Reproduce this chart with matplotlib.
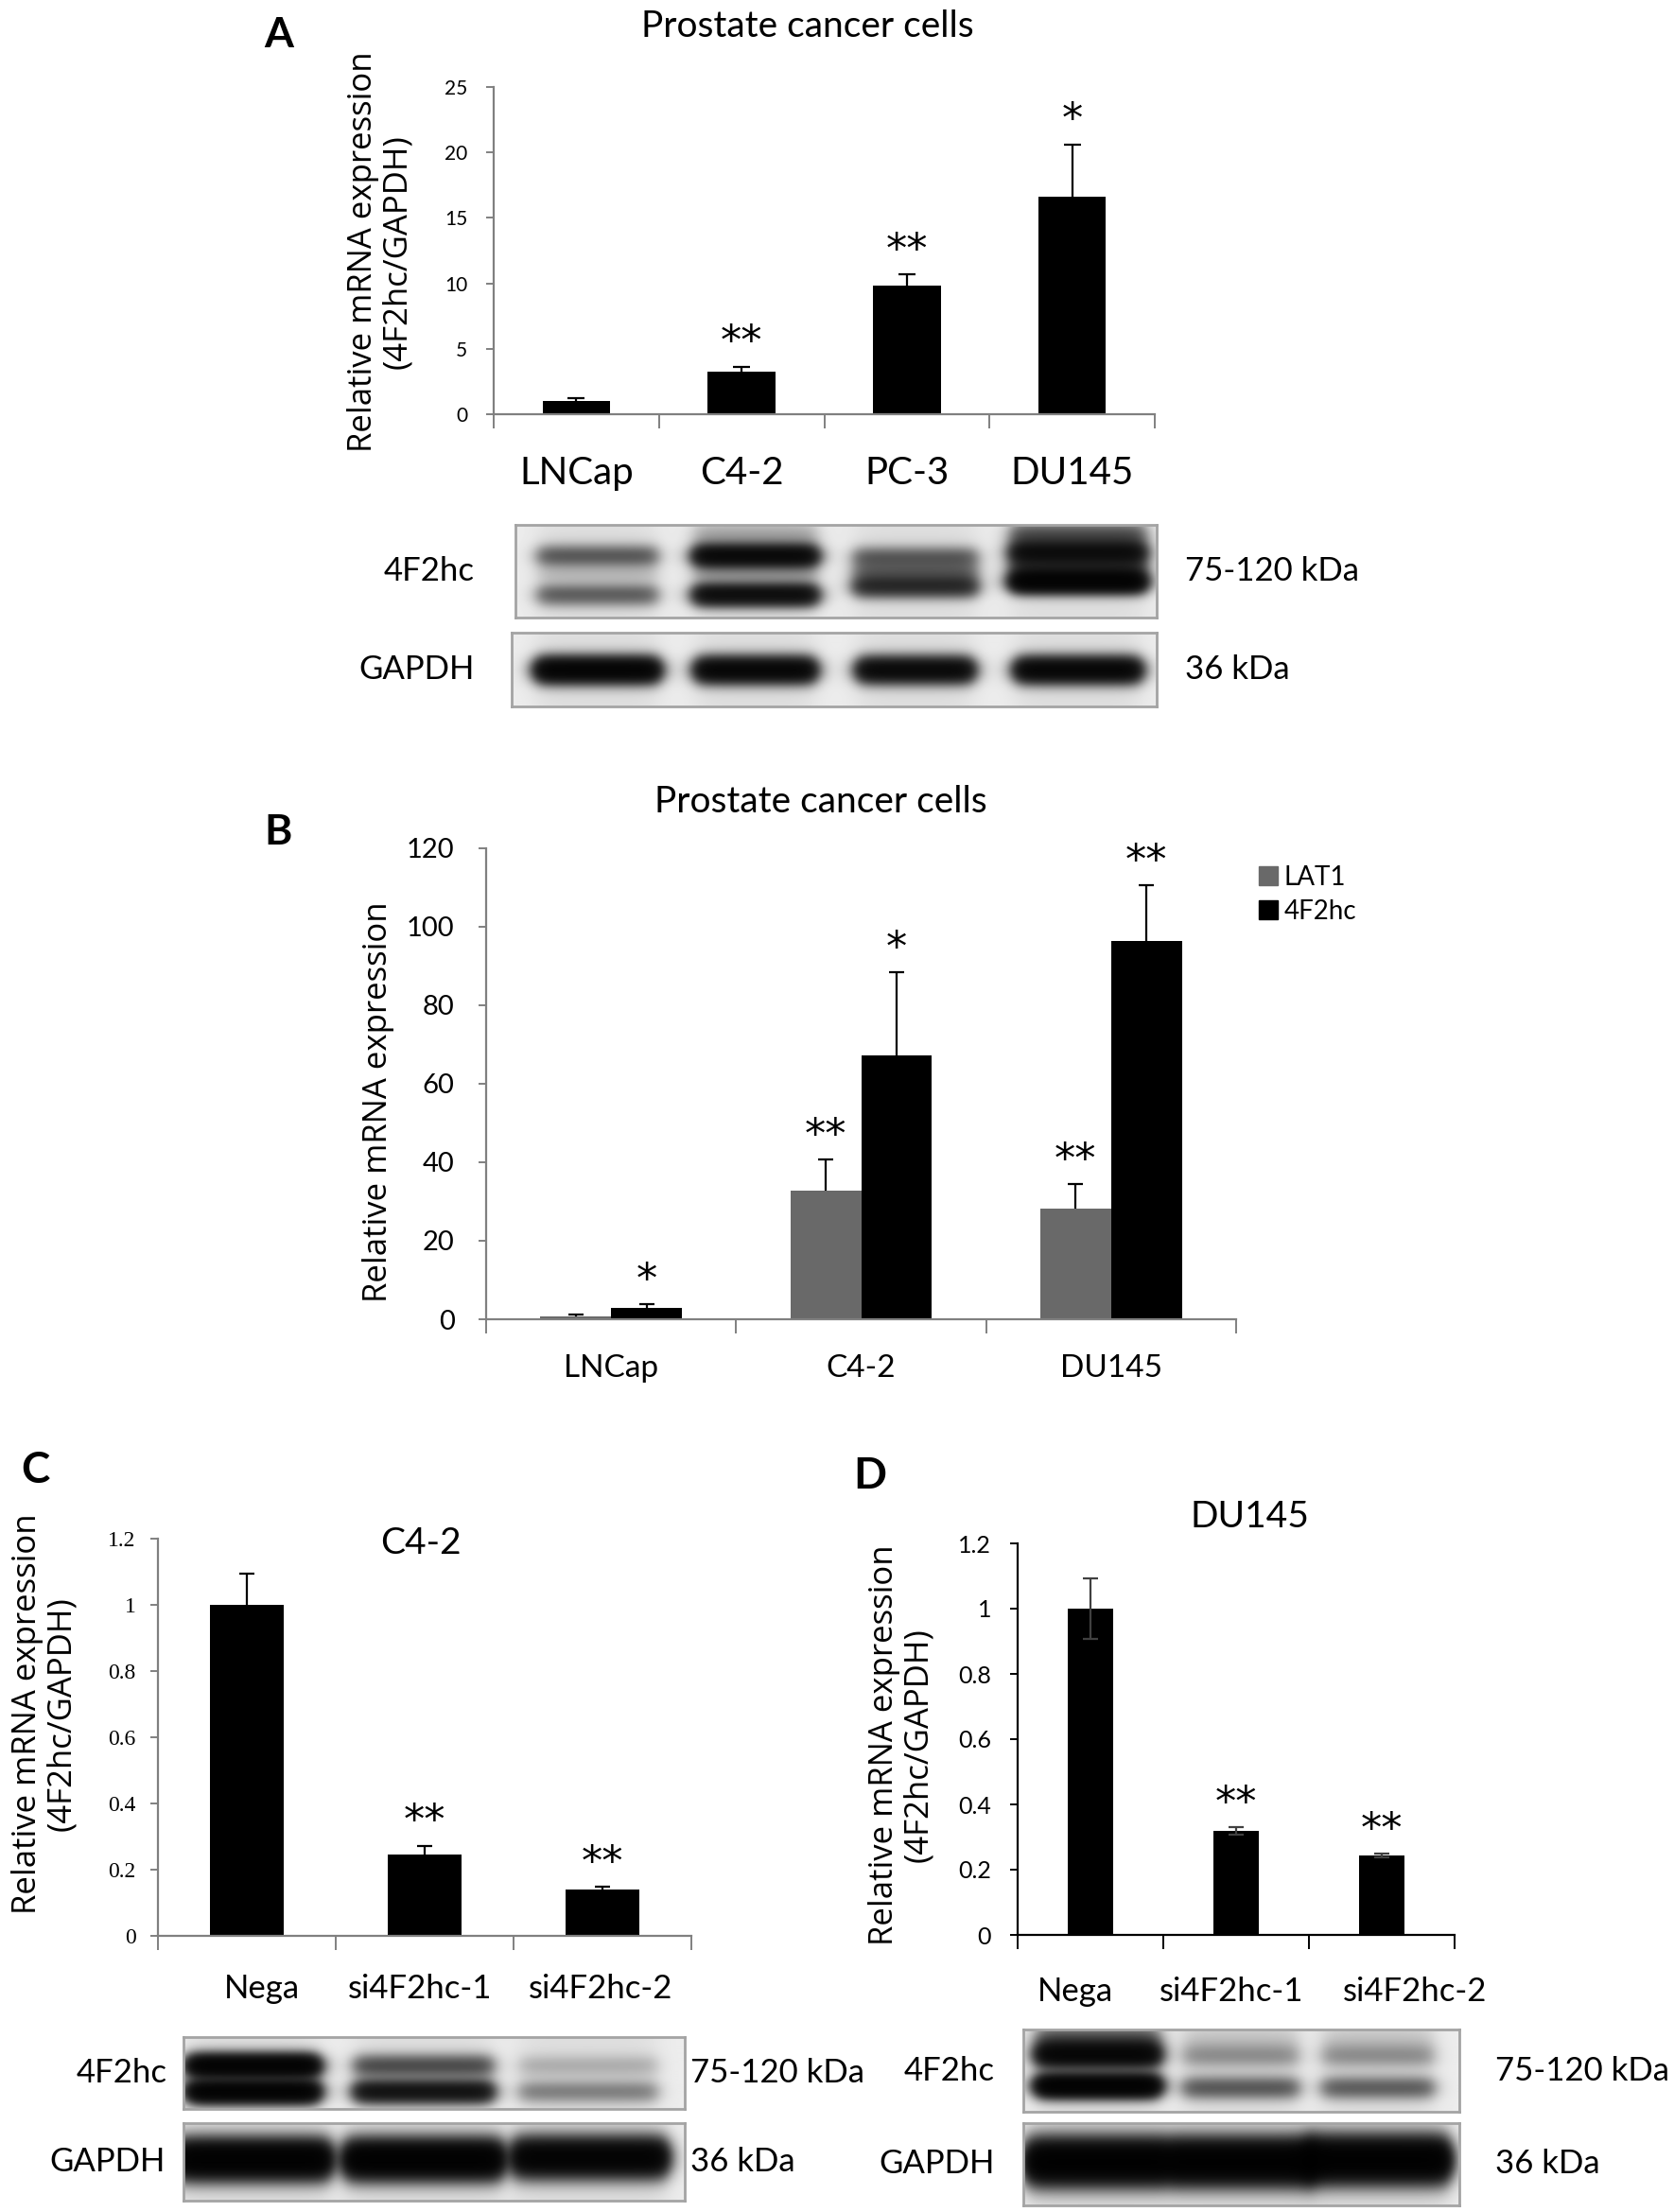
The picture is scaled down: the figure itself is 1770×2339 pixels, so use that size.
import numpy as np
import matplotlib
matplotlib.use("Agg")
import matplotlib.pyplot as plt
from matplotlib.patches import Patch

plt.rcParams['font.family'] = ['Lato', 'DejaVu Sans']

# ---- data ----
a_labels = ['LNCap', 'C4-2', 'PC-3', 'DU145']
a_mean = [1.03, 3.28, 9.82, 16.62]
a_err = [0.17, 0.34, 0.86, 3.98]
a_stars = ['', '**', '**', '*']
a_yticks = [0, 5, 10, 15, 20, 25]

b_labels = ['LNCap', 'C4-2', 'DU145']
b_lat1 = [0.8, 32.7, 28.1]
b_lat1_err = [0.5, 8.0, 6.3]
b_4f2hc = [2.9, 67.2, 96.3]
b_4f2hc_err = [0.9, 21.2, 14.3]
b_lat1_stars = ['', '**', '**']
b_4f2hc_stars = ['*', '*', '**']
b_yticks = [0, 20, 40, 60, 80, 100, 120]

si_labels = ['Nega', 'si4F2hc-1', 'si4F2hc-2']
c_mean = [1.0, 0.246, 0.14]
c_err = [0.093, 0.026, 0.008]
c_stars = ['', '**', '**']
d_mean = [1.0, 0.318, 0.244]
d_err = [0.093, 0.011, 0.005]
d_stars = ['', '**', '**']
cd_yticks = [0, 0.2, 0.4, 0.6, 0.8, 1.0, 1.2]

# western blot band strengths (relative darkness per lane)
a_blot_top = [0.0, 0.1, 0.0, 0.35]
a_blot_upper = [0.30, 1.0, 0.30, 0.85]
a_blot_mid = [0.05, 0.10, 0.20, 0.35]
a_blot_lower = [0.28, 0.90, 0.55, 1.30]
a_gapdh = [1.2, 1.1, 1.0, 1.1]
c_blot_upper = [1.3, 0.35, 0.08]
c_blot_lower = [1.3, 0.80, 0.18]
c_gapdh = [1.5, 1.5, 1.3]
d_blot_top = [0.50, 0.06, 0.06]
d_blot_upper = [0.70, 0.10, 0.10]
d_blot_lower = [1.40, 0.30, 0.28]
d_gapdh = [1.6, 1.6, 1.6]

W, H = 1770, 2339
fig = plt.figure(figsize=(W / 100, H / 100), dpi=100)
GRAY_AX = '#808080'
STAR_FONT = 'DejaVu Sans'


def px_axes(l, t, r, b):
    return fig.add_axes([l / W, 1 - b / H, (r - l) / W, (b - t) / H])


def ftext(x, y, s, **kw):
    return fig.text(x / W, 1 - y / H, s, **kw)


def setup_bar_axes(ax, n, yticks, color, tsize, tpad, tfamily='Lato', xlabels=None, xsize=24, xpad=30):
    ax.set_xlim(-0.5, n - 0.5)
    ax.set_ylim(0, yticks[-1])
    for s in ['top', 'right']:
        ax.spines[s].set_visible(False)
    for s in ['left', 'bottom']:
        ax.spines[s].set_color(color)
        ax.spines[s].set_linewidth(1.6)
    ax.set_yticks(yticks)
    ax.set_yticklabels([f'{v:g}' for v in yticks], fontsize=tsize, family=tfamily)
    ax.tick_params(axis='y', direction='out', length=6, width=1.4, color=color, pad=tpad)
    ax.set_xticks(np.arange(n + 1) - 0.5)
    ax.set_xticklabels([])
    ax.tick_params(axis='x', which='major', direction='out', length=11, width=1.4, color=color)
    if xlabels is not None:
        ax.set_xticks(np.arange(n), minor=True)
        ax.set_xticklabels(xlabels, minor=True, fontsize=xsize)
        ax.tick_params(axis='x', which='minor', length=0, pad=xpad)
    ax.patch.set_alpha(0)


def up_errors(ax, x, vals, errs, cap, color='black'):
    vals = np.asarray(vals)
    errs = np.asarray(errs)
    ax.errorbar(x, vals, yerr=[np.zeros_like(errs), errs], fmt='none', ecolor=color,
                elinewidth=1.6, capsize=0)
    ax.plot(x, vals + errs, linestyle='none', marker='_', markersize=cap,
            markeredgewidth=1.6, color=color)


def stars(ax, x, tops, marks, size=32, off=9):
    for xi, top, m in zip(x, tops, marks):
        if m:
            ax.annotate(m, xy=(xi, top), xytext=(0, off), textcoords='offset points',
                        ha='center', va='baseline', fontsize=size, family=STAR_FONT)


def draw_blot(l, t, r, b, centers, halfw, bands, bg=0.93):
    ax = px_axes(l, t, r, b)
    w, h = r - l, b - t
    yy, xx = np.mgrid[0:h, 0:w] + 0.5
    dark = np.zeros((h, w))
    lane_bg = np.zeros((h, w))
    for c, hw in zip(centers, halfw):
        lane_bg += 1 / (1 + np.exp((np.abs(xx - c) - hw) / 8))
    for ys, sy, amps in bands:
        for c, hw, yc, a in zip(centers, halfw, ys, amps):
            lane = 1 / (1 + np.exp((np.abs(xx - c) - hw) / 5))
            dark += a * lane * np.exp(-0.5 * ((yy - yc) / sy) ** 2)
    img = (bg - 0.06 * lane_bg) * np.exp(-3.0 * dark)
    ax.imshow(img, cmap='gray', vmin=0, vmax=1, extent=(0, w, h, 0), aspect='auto',
              interpolation='bilinear')
    ax.set_xticks([])
    ax.set_yticks([])
    for s in ax.spines.values():
        s.set_color('#a4a4a4')
        s.set_linewidth(2)
    return ax, w, h


def blot_labels(ax, w, h, left, right, gap_l, gap_r, size=25):
    ax.text(-gap_l, h / 2, left, ha='right', va='center', fontsize=size)
    ax.text(w + gap_r, h / 2, right, ha='left', va='center', fontsize=size)


YLAB = dict(rotation=90, ha='center', va='center', multialignment='center',
            family='Open Sans', fontsize=25, linespacing=1.05)

# ================= panel A =================
axA = px_axes(522, 92, 1221, 438)
xa = np.arange(len(a_labels))
axA.bar(xa, a_mean, width=0.41, color='black')
up_errors(axA, xa, a_mean, a_err, cap=13)
stars(axA, xa, np.add(a_mean, a_err), a_stars)
setup_bar_axes(axA, len(a_labels), a_yticks, GRAY_AX, 15, 14, xlabels=a_labels, xsize=29, xpad=32)
ftext(854, 39, 'Prostate cancer cells', ha='center', va='baseline', fontsize=28)
ftext(295, 50, 'A', ha='center', va='baseline', fontsize=32, weight='bold')
ftext(402, 266, 'Relative mRNA expression\n(4F2hc/GAPDH)', **YLAB)

bA1, w, h = draw_blot(545, 555, 1223, 653, [87, 254, 423, 595], [62, 64, 64, 70],
                      [([12, 12, 12, 12], 10, a_blot_top),
                       ([33, 33, 35, 30], 8, a_blot_upper),
                       ([52, 52, 50, 45], 7, a_blot_mid),
                       ([74, 74, 65, 60], 8, a_blot_lower)])
blot_labels(bA1, w, h, '4F2hc', '75-120 kDa', 43, 30)
bA2, w, h = draw_blot(541, 669, 1223, 747, [91, 258, 427, 599], [64, 62, 60, 65],
                      [([40, 40, 40, 40], 9, a_gapdh)])
blot_labels(bA2, w, h, 'GAPDH', '36 kDa', 39, 30)

# ================= panel B =================
axB = px_axes(514, 897, 1307, 1395)
xb = np.arange(len(b_labels))
bw = 0.283
axB.bar(xb - bw / 2, b_lat1, width=bw, color='#696969', label='LAT1')
axB.bar(xb + bw / 2, b_4f2hc, width=bw, color='black', label='4F2hc')
up_errors(axB, xb - bw / 2, b_lat1, b_lat1_err, cap=12)
up_errors(axB, xb + bw / 2, b_4f2hc, b_4f2hc_err, cap=12)
stars(axB, xb - bw / 2, np.add(b_lat1, b_lat1_err), b_lat1_stars)
stars(axB, xb + bw / 2, np.add(b_4f2hc, b_4f2hc_err), b_4f2hc_stars)
setup_bar_axes(axB, len(b_labels), b_yticks, GRAY_AX, 21, 18, xlabels=b_labels, xsize=24, xpad=27)
axB.legend(handles=[Patch(color='#696969'), Patch(color='black')], labels=['LAT1', '4F2hc'],
           loc='upper left', bbox_to_anchor=(1.030, 0.964), frameon=False, fontsize=20,
           handlelength=0.72, handleheight=0.72, handletextpad=0.25, labelspacing=0.35,
           borderpad=0, borderaxespad=0)
ftext(868, 859, 'Prostate cancer cells', ha='center', va='baseline', fontsize=28)
ftext(294, 893, 'B', ha='center', va='baseline', fontsize=32, weight='bold')
ftext(400, 1165, 'Relative mRNA expression', **YLAB)

# ================= panel C =================
axC = px_axes(167, 1627, 731, 2047)
xc = np.arange(len(si_labels))
axC.bar(xc, c_mean, width=0.415, color='black')
up_errors(axC, xc, c_mean, c_err, cap=11)
stars(axC, xc, np.add(c_mean, c_err), c_stars)
setup_bar_axes(axC, len(si_labels), cd_yticks, GRAY_AX, 17, 11, tfamily='Liberation Serif')
ftext(445, 1643, 'C4-2', ha='center', va='baseline', fontsize=28)
ftext(37, 1568, 'C', ha='center', va='baseline', fontsize=33, weight='bold')
ftext(47, 1812, 'Relative mRNA expression\n(4F2hc/GAPDH)', **YLAB)

bC1, w, h = draw_blot(194, 2154, 724, 2230, [74, 254, 428], [68, 72, 72],
                      [([31, 31, 31], 8, c_blot_upper),
                       ([58, 58, 58], 8, c_blot_lower)])
blot_labels(bC1, w, h, '4F2hc', '75-120 kDa', 17, 6)
for xl, lab in zip([83, 250, 441], si_labels):
    bC1.text(xl, -41, lab, ha='center', va='baseline', fontsize=25)
bC2, w, h = draw_blot(194, 2245, 724, 2327, [74, 254, 430], [80, 82, 80],
                      [([39, 39, 37], 13, c_gapdh)])
blot_labels(bC2, w, h, 'GAPDH', '36 kDa', 19, 6)

# ================= panel D =================
axD = px_axes(1076, 1632, 1538, 2046)
xd = np.arange(len(si_labels))
axD.bar(xd, d_mean, width=0.31, color='black')
axD.errorbar(xd, d_mean, yerr=d_err, fmt='none', ecolor='#404040', elinewidth=1.6,
             capsize=6, capthick=1.6)
stars(axD, xd, np.add(d_mean, d_err), d_stars)
setup_bar_axes(axD, len(si_labels), cd_yticks, 'black', 18, 14)
ftext(1321, 1615, 'DU145', ha='center', va='baseline', fontsize=28)
ftext(920, 1574, 'D', ha='center', va='baseline', fontsize=33, weight='bold')
ftext(953, 1845, 'Relative mRNA expression\n(4F2hc/GAPDH)', **YLAB)

bD1, w, h = draw_blot(1082, 2146, 1543, 2233, [79, 230, 375], [64, 60, 58],
                      [([20, 20, 20], 14, d_blot_top),
                       ([28, 29, 29], 8, d_blot_upper),
                       ([60, 62, 62], 8, d_blot_lower)])
blot_labels(bD1, w, h, '4F2hc', '75-120 kDa', 30, 38)
for xl, lab in zip([55, 220, 414], si_labels):
    bD1.text(xl, -30, lab, ha='center', va='baseline', fontsize=25)
bD2, w, h = draw_blot(1082, 2245, 1543, 2332, [79, 230, 375], [74, 76, 74],
                      [([41, 41, 39], 15, d_gapdh)])
blot_labels(bD2, w, h, 'GAPDH', '36 kDa', 30, 38)

fig.savefig('out.png', dpi=100)
